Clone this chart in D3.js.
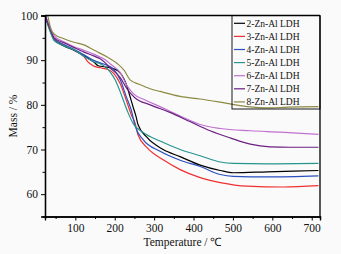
<!DOCTYPE html>
<html><head><meta charset="utf-8">
<script src="https://cdn.jsdelivr.net/npm/d3@7"></script>
<style>html,body{margin:0;padding:0;background:#fafafa;}svg{display:block;}</style>
</head><body>
<svg id="c" width="341" height="254"></svg>
<script>
const seriesNames = ["2-Zn-Al LDH","3-Zn-Al LDH","4-Zn-Al LDH","5-Zn-Al LDH","6-Zn-Al LDH","7-Zn-Al LDH","8-Zn-Al LDH"];
const seriesColors = ["#000000","#f03030","#2a4fc0","#26948f","#c070d0","#6a2080","#8c8a42"];
const s2 = [[23,100.3],[28,98.7],[36,96.7],[46,94.7],[71,93.2],[97,92.2],[122,91.0],[148,89.5],[158,88.75],[176,88.5],[193,88.2],[208,87.6],[219,86.5],[229,84.7],[239,81.8],[247,79.4],[254,77.4],[259,75.6],[282,72.7],[323,70.0],[366,68.4],[417,66.5],[468,65.3],[501,64.8],[587,65.0],[717,65.3]];
const s3 = [[23,100.3],[28,98.8],[36,96.8],[46,94.8],[71,93.4],[97,92.3],[122,90.8],[132,89.6],[145,88.75],[163,88.3],[183,87.9],[198,87.0],[214,84.7],[229,81.1],[242,77.8],[252,75.8],[259,73.3],[282,70.4],[323,67.7],[366,65.5],[417,63.7],[468,62.6],[536,61.8],[628,61.6],[717,61.9]];
const s4 = [[23,100.3],[28,98.9],[36,96.9],[46,94.9],[71,93.5],[97,92.4],[122,91.2],[148,89.9],[163,89.4],[183,88.75],[198,87.9],[214,85.6],[229,81.9],[242,78.8],[252,75.2],[272,72.2],[315,69.6],[366,67.6],[417,66.2],[468,64.4],[501,64.0],[587,63.85],[717,64.1]];
const s5 = [[23,100.3],[28,98.5],[36,96.4],[46,94.4],[71,93.2],[97,92.3],[122,90.8],[148,89.6],[163,89.2],[176,88.5],[188,87.4],[201,85.6],[214,82.9],[224,80.5],[234,78.2],[247,75.8],[272,73.8],[315,71.9],[366,70.0],[417,68.6],[468,67.2],[501,66.9],[587,66.8],[717,66.9]];
const s6 = [[23,100.3],[28,99.0],[36,97.5],[46,95.5],[71,94.1],[97,93.0],[122,92.2],[148,91.3],[163,90.7],[176,90.1],[188,89.2],[214,87.2],[231,84.3],[247,82.5],[277,81.1],[315,79.6],[366,77.5],[417,75.6],[468,74.7],[544,74.2],[620,73.9],[717,73.4]];
const s7 = [[23,100.3],[28,98.8],[36,97.0],[46,95.0],[71,93.9],[97,92.8],[122,91.8],[148,90.9],[163,90.3],[176,89.4],[188,88.3],[214,86.1],[231,83.6],[251,81.6],[290,80.0],[340,78.3],[392,76.2],[442,74.2],[493,72.6],[544,71.2],[594,70.6],[645,70.5],[717,70.5]];
const s8 = [[28,100.5],[31,99.6],[37.5,97.0],[46,95.9],[71,94.8],[97,94.0],[125,93.3],[148,92.2],[181,90.7],[207,89.2],[224,87.7],[239,85.6],[265,84.5],[290,83.6],[315,83.0],[366,81.9],[417,81.3],[468,80.6],[536,79.6],[590,79.3],[640,79.5],[717,79.6]];
const seriesData = [s2,s3,s4,s5,s6,s7,s8];
const xTicks = [100,200,300,400,500,600,700];
const xMinor = [50,150,250,350,450,550,650];
const yTicks = [60,70,80,90,100];
const yMinor = [65,75,85,95];

const L=45,R=320,T=15.5,B=216.5;
const svg=d3.select("#c");
const x=d3.scaleLinear().domain([23,721]).range([L,R]);
const y=d3.scaleLinear().domain([55,100]).range([B,T]);
const font="'Liberation Serif','Times New Roman',serif";

svg.append("defs").append("clipPath").attr("id","clip").append("rect")
  .attr("x",L).attr("y",T).attr("width",R-L).attr("height",B-T);

const line=d3.line().x(d=>x(d[0])).y(d=>y(d[1])).curve(d3.curveMonotoneX);
const g=svg.append("g").attr("clip-path","url(#clip)");
seriesData.forEach((s,i)=>{
  g.append("path").datum(s).attr("d",line).attr("fill","none")
   .attr("stroke",seriesColors[i]).attr("stroke-width",1.2);
});

const xa=svg.append("g").attr("transform",`translate(0,${B})`)
  .call(d3.axisBottom(x).tickValues(xTicks).tickSize(4).tickPadding(3).tickFormat(d3.format("d")));
const xm=svg.append("g").attr("transform",`translate(0,${B})`)
  .call(d3.axisBottom(x).tickValues(xMinor).tickSize(2.5).tickFormat(""));
const ya=svg.append("g").attr("transform",`translate(${L},0)`)
  .call(d3.axisLeft(y).tickValues(yTicks).tickSize(4).tickPadding(3));
const ym=svg.append("g").attr("transform",`translate(${L},0)`)
  .call(d3.axisLeft(y).tickValues(yMinor).tickSize(2.5).tickFormat(""));
[xa,xm,ya,ym].forEach(a=>{
  a.select(".domain").attr("stroke","#000").attr("stroke-width",1.3);
  a.selectAll(".tick line").attr("stroke","#000").attr("stroke-width",1);
  a.selectAll("text").attr("font-family",font).attr("font-size",11.5).attr("fill","#111");
});
svg.append("line").attr("x1",L).attr("x2",R).attr("y1",T).attr("y2",T).attr("stroke","#000").attr("stroke-width",1.3);
svg.append("line").attr("x1",R).attr("x2",R).attr("y1",T).attr("y2",B).attr("stroke","#000").attr("stroke-width",1.3);

svg.append("text").attr("x",(L+R)/2).attr("y",246).attr("text-anchor","middle")
  .attr("font-family",font).attr("font-size",11.5).attr("fill","#111").text("Temperature / ℃");
svg.append("text").attr("transform",`translate(17,${(T+B)/2}) rotate(-90)`).attr("text-anchor","middle")
  .attr("font-family",font).attr("font-size",11.5).attr("fill","#111").text("Mass / %");

const lg=svg.append("g");
lg.append("rect").attr("x",232).attr("y",T).attr("width",R-232).attr("height",109-T)
  .attr("fill","none").attr("stroke","#000").attr("stroke-width",0.9);
seriesNames.forEach((n,i)=>{
  const yy=23.3+i*13.1;
  lg.append("line").attr("x1",234).attr("x2",245).attr("y1",yy).attr("y2",yy)
    .attr("stroke",seriesColors[i]).attr("stroke-width",1.2);
  lg.append("text").attr("x",246.5).attr("y",yy+3.2).attr("font-family",font)
    .attr("font-size",9.5).attr("fill","#111").text(n);
});
</script>
</body></html>
